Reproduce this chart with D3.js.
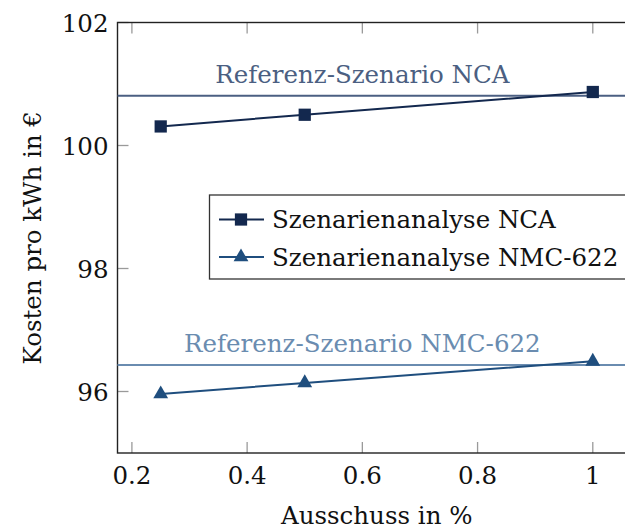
<!DOCTYPE html>
<html>
<head>
<meta charset="utf-8">
<script src="https://cdn.jsdelivr.net/npm/d3@7"></script>
<style>
  body { margin: 0; background: #fff; }
  svg text { font-family: "DejaVu Serif", serif; }
</style>
</head>
<body>
<div class="chart"></div>
<script>
var ausschuss = [0.25, 0.5, 1];
var ncaWerte = [100.31, 100.5, 100.87];
var nmcWerte = [95.96, 96.14, 96.49];
var refNca = 100.81;
var refNmc = 96.43;
var xTicks = [0.2, 0.4, 0.6, 0.8, 1];
var yTicks = [96, 98, 100, 102];
var serienNamen = ["Szenarienanalyse NCA", "Szenarienanalyse NMC-622"];
var refNamen = ["Referenz-Szenario NCA", "Referenz-Szenario NMC-622"];

var W = 625, H = 529;
var pL = 117.5, pR = 636, pT = 22.5, pB = 453;

var x = d3.scaleLinear().domain([0.175, 1.075]).range([pL, pR]);
var y = d3.scaleLinear().domain([95, 102]).range([pB, pT]);

var svg = d3.select(".chart").append("svg")
  .attr("width", W).attr("height", H);

var fs = 24.5;

// ticks (inside, grey) on all four sides
var tickCol = "#9a9a9a";
xTicks.forEach(function(t) {
  svg.append("line").attr("x1", x(t)).attr("x2", x(t))
    .attr("y1", pB).attr("y2", pB - 11)
    .attr("stroke", tickCol).attr("stroke-width", 1.3);
  svg.append("line").attr("x1", x(t)).attr("x2", x(t))
    .attr("y1", pT).attr("y2", pT + 11)
    .attr("stroke", tickCol).attr("stroke-width", 1.3);
  svg.append("text").attr("x", x(t)).attr("y", pB + 31)
    .attr("text-anchor", "middle").attr("font-size", fs)
    .attr("fill", "#111").text(d3.format("")(t));
});
yTicks.forEach(function(t) {
  svg.append("line").attr("x1", pL).attr("x2", pL + 11)
    .attr("y1", y(t)).attr("y2", y(t))
    .attr("stroke", tickCol).attr("stroke-width", 1.3);
  svg.append("line").attr("x1", pR).attr("x2", pR - 11)
    .attr("y1", y(t)).attr("y2", y(t))
    .attr("stroke", tickCol).attr("stroke-width", 1.3);
  svg.append("text").attr("x", pL - 9).attr("y", y(t) + 9)
    .attr("text-anchor", "end").attr("font-size", fs)
    .attr("fill", "#111").text(t);
});

// axis box
svg.append("rect").attr("x", pL).attr("y", pT)
  .attr("width", pR - pL).attr("height", pB - pT)
  .attr("fill", "none").attr("stroke", "#222").attr("stroke-width", 1.4);

// reference lines
var refCols = ["#4b5f82", "#6a8cb0"];
[refNca, refNmc].forEach(function(v, i) {
  svg.append("line").attr("x1", pL).attr("x2", pR)
    .attr("y1", y(v)).attr("y2", y(v))
    .attr("stroke", refCols[i]).attr("stroke-width", 2);
  svg.append("text").attr("x", x(0.6)).attr("y", y(v) - 13)
    .attr("text-anchor", "middle").attr("font-size", fs)
    .attr("fill", refCols[i]).text(refNamen[i]);
});

// series
var cols = ["#13284e", "#1f4e7e"];
var line = d3.line()
  .x(function(d) { return x(d.x); })
  .y(function(d) { return y(d.y); });
var sqr = d3.symbol().type(d3.symbolSquare).size(150);
var tri = d3.symbol().type(d3.symbolTriangle).size(95);

[ncaWerte, nmcWerte].forEach(function(werte, i) {
  var data = ausschuss.map(function(a, j) { return {x: a, y: werte[j]}; });
  svg.append("path").attr("d", line(data))
    .attr("fill", "none").attr("stroke", cols[i]).attr("stroke-width", 2);
  svg.selectAll(".m" + i).data(data).enter().append("path")
    .attr("class", "m" + i)
    .attr("transform", function(d) { return "translate(" + x(d.x) + "," + y(d.y) + ")"; })
    .attr("d", i === 0 ? sqr : tri)
    .attr("fill", cols[i]);
});

// legend
var lg = svg.append("g");
lg.append("rect").attr("x", 209.5).attr("y", 195)
  .attr("width", 430).attr("height", 84)
  .attr("fill", "#fff").attr("stroke", "#333").attr("stroke-width", 1.3);
[219.5, 257].forEach(function(ly, i) {
  lg.append("line").attr("x1", 219).attr("x2", 264)
    .attr("y1", ly).attr("y2", ly)
    .attr("stroke", cols[i]).attr("stroke-width", 2);
  lg.append("path").attr("transform", "translate(241," + ly + ")")
    .attr("d", i === 0 ? sqr : tri).attr("fill", cols[i]);
  lg.append("text").attr("x", 272).attr("y", ly + 8.5)
    .attr("font-size", fs).attr("fill", "#111").text(serienNamen[i]);
});

// axis titles
svg.append("text").attr("x", (pL + pR) / 2).attr("y", 524)
  .attr("text-anchor", "middle").attr("font-size", fs)
  .attr("fill", "#111").text("Ausschuss in %");
svg.append("text")
  .attr("transform", "translate(41," + ((pT + pB) / 2) + ") rotate(-90)")
  .attr("text-anchor", "middle").attr("font-size", fs)
  .attr("fill", "#111").text("Kosten pro kWh in €");
</script>
</body>
</html>
